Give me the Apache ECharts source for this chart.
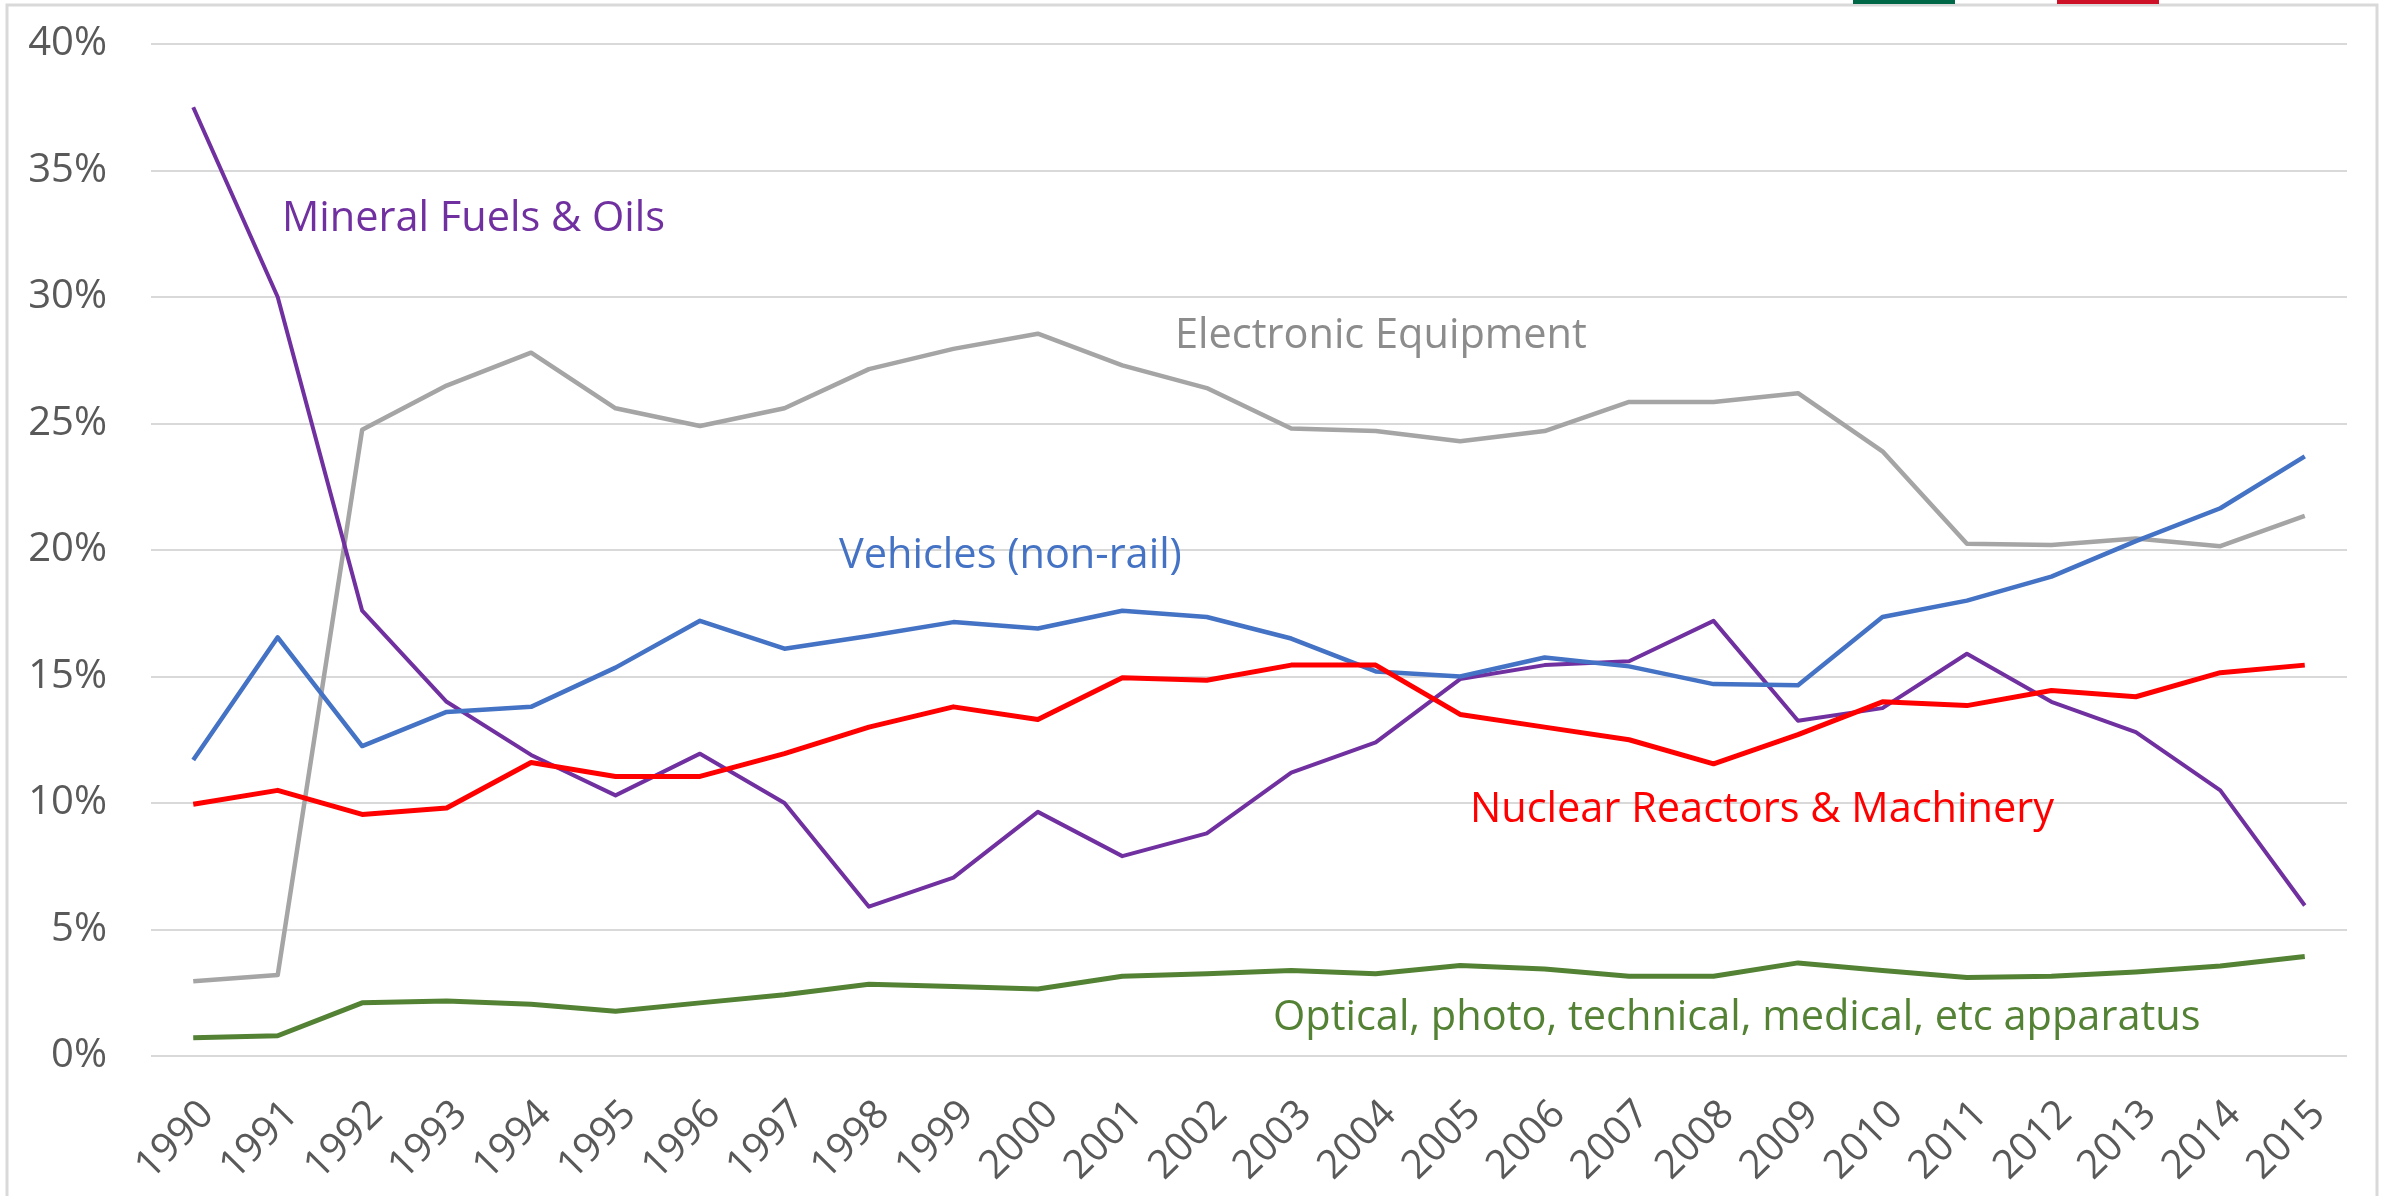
<!DOCTYPE html>
<html>
<head>
<meta charset="utf-8">
<script src="https://cdn.jsdelivr.net/npm/echarts@6/dist/echarts.min.js"></script>
<style>
  html, body { margin: 0; padding: 0; background: #fff; }
  #chart { width: 2389px; height: 1196px; }
</style>
</head>
<body>
<div id="chart"></div>
<script>
  // years on the x axis
  var years = ['1990', '1991', '1992', '1993', '1994', '1995', '1996', '1997', '1998', '1999',
    '2000', '2001', '2002', '2003', '2004', '2005', '2006', '2007', '2008', '2009',
    '2010', '2011', '2012', '2013', '2014', '2015'];

  // shares of total, in percent
  var mineralFuels = [37.5, 30.0, 17.6, 14.0, 11.9, 10.3, 11.95, 10.0, 5.9, 7.05,
    9.65, 7.9, 8.8, 11.2, 12.4, 14.9, 15.45, 15.6, 17.2, 13.25,
    13.75, 15.9, 14.0, 12.8, 10.5, 5.95];
  var electronic = [2.95, 3.2, 24.75, 26.5, 27.8, 25.6, 24.9, 25.6, 27.15, 27.95,
    28.55, 27.3, 26.4, 24.8, 24.7, 24.3, 24.7, 25.85, 25.85, 26.2,
    23.9, 20.25, 20.2, 20.45, 20.15, 21.35];
  var vehicles = [11.7, 16.55, 12.25, 13.6, 13.8, 15.35, 17.2, 16.1, 16.6, 17.15,
    16.9, 17.6, 17.35, 16.5, 15.2, 15.0, 15.75, 15.4, 14.7, 14.65,
    17.35, 18.0, 18.95, 20.35, 21.65, 23.7];
  var nuclear = [9.95, 10.5, 9.55, 9.8, 11.6, 11.05, 11.05, 11.95, 13.0, 13.8,
    13.3, 14.95, 14.85, 15.45, 15.45, 13.5, 13.0, 12.5, 11.55, 12.7,
    14.0, 13.85, 14.45, 14.2, 15.15, 15.45];
  var optical = [0.72, 0.8, 2.1, 2.17, 2.05, 1.77, 2.1, 2.42, 2.84, 2.75,
    2.65, 3.15, 3.25, 3.38, 3.25, 3.58, 3.44, 3.15, 3.15, 3.68,
    3.38, 3.1, 3.15, 3.32, 3.56, 3.93];

  var yTicks = [0, 5, 10, 15, 20, 25, 30, 35, 40];

  var font = '"Open Sans", "DejaVu Sans", sans-serif';

  function line(name, data, color, width) {
    return {
      name: name,
      type: 'line',
      data: data,
      symbol: 'none',
      lineStyle: { color: color, width: width, join: 'round' },
      itemStyle: { color: color }
    };
  }

  function note(text, x, y, color) {
    return {
      type: 'text',
      x: x,
      y: y,
      style: {
        text: text,
        fill: color,
        font: '41.5px ' + font,
        textAlign: 'left',
        textVerticalAlign: 'middle'
      },
      z: 100
    };
  }

  var option = {
    backgroundColor: '#fff',
    animation: false,
    grid: { left: 151, right: 42, top: 44, bottom: 140, containLabel: false },
    xAxis: {
      type: 'category',
      data: years,
      boundaryGap: true,
      axisLine: { show: false },
      axisTick: { show: false },
      axisLabel: {
        rotate: 45,
        interval: 0,
        margin: 38,
        verticalAlign: 'top',
        color: '#595959',
        fontSize: 40,
        fontFamily: font
      }
    },
    yAxis: {
      type: 'value',
      min: yTicks[0],
      max: yTicks[yTicks.length - 1],
      interval: 5,
      axisLine: { show: false },
      axisTick: { show: false },
      splitLine: { lineStyle: { color: '#d9d9d9', width: 2 } },
      axisLabel: {
        margin: 44,
        color: '#595959',
        fontSize: 40,
        fontFamily: font,
        formatter: '{value}%'
      }
    },
    series: [
      line('Electronic Equipment', electronic, '#a5a5a5', 4.5),
      line('Mineral Fuels & Oils', mineralFuels, '#7030a0', 4),
      line('Vehicles (non-rail)', vehicles, '#4472c4', 4.5),
      line('Nuclear Reactors & Machinery', nuclear, '#ff0000', 5),
      line('Optical, photo, technical, medical, etc apparatus', optical, '#548235', 5)
    ],
    graphic: [
      // outer chart frame
      { type: 'rect', shape: { x: 7, y: 5, width: 2370, height: 1230 },
        style: { fill: 'none', stroke: '#d9d9d9', lineWidth: 3 }, z: 1 },
      // bits of the flag peeking in at the top
      { type: 'rect', shape: { x: 1853, y: 0, width: 102, height: 4 }, style: { fill: '#006847' }, z: 2 },
      { type: 'rect', shape: { x: 2057, y: 0, width: 102, height: 4 }, style: { fill: '#ce1126' }, z: 2 },
      note('Mineral Fuels & Oils', 282, 219, '#7030a0'),
      note('Electronic Equipment', 1175, 336, '#8c8c8c'),
      note('Vehicles (non-rail)', 839, 556, '#4472c4'),
      note('Nuclear Reactors & Machinery', 1470, 810, '#ff0000'),
      note('Optical, photo, technical, medical, etc apparatus', 1273, 1018, '#548235')
    ]
  };

  var myChart = echarts.init(document.getElementById('chart'));
  myChart.setOption(option);
  window.addEventListener('resize', function () {
    myChart.resize();
  });
</script>
</body>
</html>
